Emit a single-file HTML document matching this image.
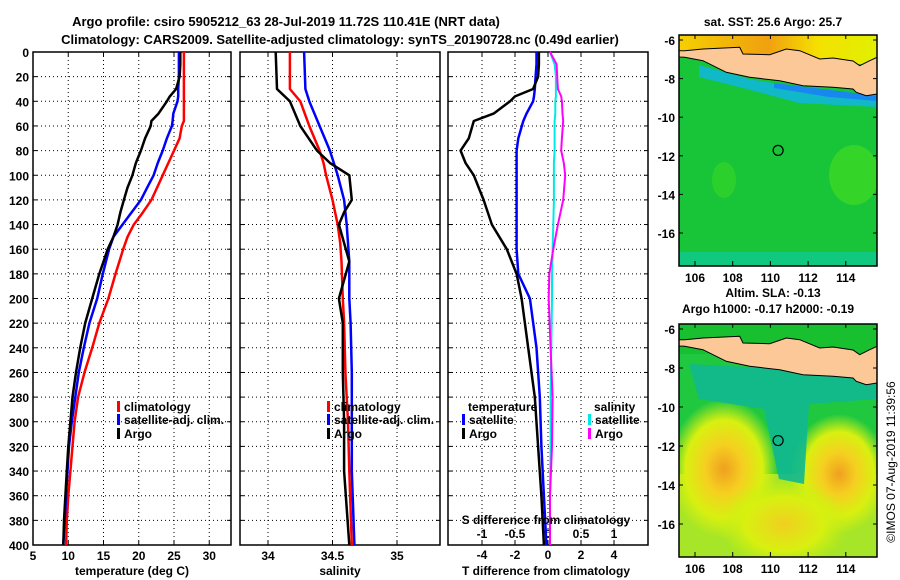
<!DOCTYPE html>
<html><head><meta charset="utf-8">
<style>
body{margin:0;background:#fff;}
svg{display:block;font-family:"Liberation Sans",sans-serif;font-weight:bold;}
</style></head>
<body>
<svg id="chart" width="900" height="580" viewBox="0 0 900 580" xmlns="http://www.w3.org/2000/svg">
<defs>
<radialGradient id="yb" cx="50%" cy="50%" r="50%"><stop offset="0" stop-color="#f0a020"/><stop offset="0.35" stop-color="#f5d020"/><stop offset="0.7" stop-color="#d8f010"/><stop offset="1" stop-color="#d8f010" stop-opacity="0"/></radialGradient>
<radialGradient id="yb2" cx="50%" cy="50%" r="50%"><stop offset="0" stop-color="#f0d020"/><stop offset="0.6" stop-color="#d8f010"/><stop offset="1" stop-color="#c8f010" stop-opacity="0"/></radialGradient>
<linearGradient id="topy" x1="0" y1="0" x2="1" y2="0"><stop offset="0" stop-color="#f5d000"/><stop offset="0.45" stop-color="#f0a010"/><stop offset="0.7" stop-color="#f5e000"/><stop offset="1" stop-color="#e0f000"/></linearGradient>
<clipPath id="c1"><rect x="679" y="35" width="198" height="231"/></clipPath>
<clipPath id="c2"><rect x="679" y="324" width="198" height="233"/></clipPath>
</defs>
<text x="286" y="26" font-size="13" text-anchor="middle">Argo profile: csiro 5905212_63 28-Jul-2019 11.72S 110.41E (NRT data)</text>
<text x="340" y="44" font-size="13" text-anchor="middle">Climatology: CARS2009. Satellite-adjusted climatology: synTS_20190728.nc (0.49d earlier)</text>
<g id="panels"></g>
<g id="maps"></g>
<text transform="translate(895,462) rotate(-90)" font-size="12" font-weight="normal" text-anchor="middle">©IMOS 07-Aug-2019 11:39:56</text>
</svg>
<script>
const NS="http://www.w3.org/2000/svg";
const svg=document.getElementById('chart');
const depthTicks=[0,20,40,60,80,100,120,140,160,180,200,220,240,260,280,300,320,340,360,380,400];
// Temperature profiles
const tDepth=[0,10,20,30,36,40,50,56,60,70,80,90,100,110,120,130,140,150,160,180,200,220,240,260,280,300,320,340,360,380,400];
const tArgo=[25.9,25.9,25.8,25.3,24.4,24.0,22.8,21.8,21.7,20.9,20.3,19.6,19.1,18.4,17.9,17.4,17.0,16.4,15.6,14.4,13.4,12.4,11.7,11.1,10.6,10.3,10.0,9.8,9.6,9.4,9.3];
const tSat=[25.7,25.7,25.7,25.6,25.6,25.5,24.9,24.8,24.7,24.0,23.4,22.7,22.1,21.2,20.3,19.0,17.7,16.4,15.8,14.9,14.1,13.0,12.2,11.5,11.0,10.5,10.1,9.9,9.7,9.5,9.3];
const tClim=[26.4,26.4,26.4,26.4,26.4,26.4,26.4,26.4,26.1,25.8,25.0,24.2,23.4,22.6,21.8,20.6,19.3,18.4,17.8,16.7,15.7,14.4,13.4,12.3,11.4,10.9,10.6,10.3,10.0,9.8,9.7];
const tTicks=[5,10,15,20,25,30];
// Salinity profiles
const sDepth=[0,30,40,60,80,90,100,120,130,140,155,170,200,220,260,300,340,400];
const sArgo=[34.06,34.07,34.17,34.25,34.38,34.48,34.63,34.65,34.59,34.55,34.59,34.63,34.55,34.58,34.58,34.59,34.59,34.63];
const sSat=[34.28,34.29,34.32,34.4,34.48,34.51,34.54,34.59,34.6,34.61,34.62,34.63,34.63,34.64,34.65,34.65,34.65,34.67];
const sClim=[34.17,34.17,34.25,34.32,34.4,34.43,34.45,34.5,34.52,34.54,34.56,34.57,34.58,34.59,34.6,34.62,34.63,34.65];
const sTicks=[34,34.5,35];
const sTickLabels=["34","34.5","35"];
// Difference profiles
const dDepth=[0,10,20,30,36,40,50,56,70,80,90,100,120,140,160,180,200,240,280,320,360,400];
const dTArgo=[-0.55,-0.55,-0.6,-0.9,-2.0,-2.3,-3.3,-4.5,-4.8,-5.3,-5.0,-4.5,-3.9,-3.4,-2.5,-1.9,-1.6,-1.2,-0.8,-0.6,-0.4,-0.25];
const dTSat=[-0.7,-0.7,-0.75,-0.8,-0.85,-0.9,-1.3,-1.5,-1.8,-1.9,-1.9,-1.9,-1.9,-1.9,-1.9,-1.8,-1.1,-0.7,-0.5,-0.4,-0.25,-0.1];
const dSSat=[0.03,0.1,0.12,0.12,0.12,0.11,0.11,0.1,0.1,0.1,0.09,0.09,0.09,0.08,0.07,0.06,0.06,0.05,0.04,0.04,0.03,0.03];
const dSArgo=[0.03,0.13,0.14,0.15,0.2,0.21,0.22,0.23,0.21,0.2,0.24,0.26,0.23,0.15,0.08,0.02,0.01,0.04,0.07,0.06,0.03,0.03];
const dTTicks=[-4,-2,0,2,4];
const dSTicks=[-1,-0.5,0,0.5,1];
const dSTickLabels=["-1","-0.5","0","0.5","1"];

const PY0=52, PY1=545;
function yDepth(d){return PY0+d*(PY1-PY0)/400;}
function el(tag,attrs,parent){const e=document.createElementNS(NS,tag);for(const k in attrs)e.setAttribute(k,attrs[k]);(parent||svg).appendChild(e);return e;}
const panels=document.getElementById('panels');

function xT(t){return 33+(t-5)*7.05;}
function xS(s){return 268+(s-34)*129;}
function xD(d){return 548+d*16.5;}
function xDS(s){return 548+s*66;}

function frame(x0,x1,name,showDepthLabels){
  const g=el('g',{},panels);
  
  
  depthTicks.forEach(d=>{
    const y=yDepth(d);
    if(d>0&&d<400){const l=el('line',{x1:x0,x2:x1,y1:y,y2:y,stroke:'#000','stroke-width':1,'stroke-dasharray':'1,3'},g);
      
      }
    el('line',{x1:x0,x2:x0+4,y1:y,y2:y,stroke:'#000'},g);
    el('line',{x1:x1-4,x2:x1,y1:y,y2:y,stroke:'#000'},g);
    if(showDepthLabels){const t=el('text',{x:x0-4,y:y+5,'font-size':12,'text-anchor':'end'},g);t.textContent=d;
      
      }
  });
  const r=el('rect',{x:x0,y:PY0,width:x1-x0,height:PY1-PY0,fill:'none',stroke:'#000','stroke-width':1.5},g);
  
  
  return g;
}
function vtick(g,x,label,ylab){
  const l=el('line',{x1:x,x2:x,y1:PY0,y2:PY1,stroke:'#000','stroke-dasharray':'1,3'},g);
  
  
  el('line',{x1:x,x2:x,y1:PY1-4,y2:PY1,stroke:'#000'},g);
  el('line',{x1:x,x2:x,y1:PY0,y2:PY0+4,stroke:'#000'},g);
  if(label!==null){const t=el('text',{x:x,y:ylab,'font-size':12,'text-anchor':'middle'},g);t.textContent=label;
    
    }
}
function series(g,xs,ds,fx,color,name,w){
  const pts=xs.map((v,i)=>fx(v).toFixed(1)+','+yDepth(ds[i]).toFixed(1)).join(' ');
  const p=el('polyline',{points:pts,fill:'none',stroke:color,'stroke-width':w||2.5,'stroke-linejoin':'round'},g);
  
  
}
function txt(g,x,y,s,name,anchor,size){const t=el('text',{x:x,y:y,'font-size':size||12,'text-anchor':anchor||'start'},g);t.textContent=s;
  
  return t;}
function legBar(g,x,y,color,name){const r=el('rect',{x:x,y:y-10,width:3,height:11,fill:color},g);
  
  }

// Panel 1
let g1=frame(33,231,'temperature-panel',true);
tTicks.forEach(t=>vtick(g1,xT(t),String(t),560));
series(g1,tClim,tDepth,xT,'#ff0000','climatology-temperature-line');
series(g1,tSat,tDepth,xT,'#0000ff','satellite-temperature-line');
series(g1,tArgo,tDepth,xT,'#000000','argo-temperature-line');
txt(g1,132,575,'temperature (deg C)','x-axis-title','middle');
legBar(g1,117,411,'#ff0000','legend-climatology-swatch');txt(g1,124,411,'climatology','legend-climatology');
legBar(g1,117,424,'#0000ff','legend-satellite-swatch');txt(g1,124,424,'satellite-adj. clim.','legend-satellite');
legBar(g1,117,438,'#000','legend-argo-swatch');txt(g1,124,438,'Argo','legend-argo');

// Panel 2
let g2=frame(240,440,'salinity-panel',false);
sTicks.forEach((s,i)=>vtick(g2,xS(s),sTickLabels[i],560));
series(g2,sClim,sDepth,xS,'#ff0000','climatology-salinity-line');
series(g2,sSat,sDepth,xS,'#0000ff','satellite-salinity-line');
series(g2,sArgo,sDepth,xS,'#000000','argo-salinity-line');
txt(g2,340,575,'salinity','x-axis-title','middle');
legBar(g2,327,411,'#ff0000','legend-climatology-swatch');txt(g2,334,411,'climatology','legend-climatology');
legBar(g2,327,424,'#0000ff','legend-satellite-swatch');txt(g2,334,424,'satellite-adj. clim.','legend-satellite');
legBar(g2,327,438,'#000','legend-argo-swatch');txt(g2,334,438,'Argo','legend-argo');

// Panel 3
let g3=frame(448,648,'difference-panel',false);
dTTicks.forEach(t=>vtick(g3,xD(t),String(t),559));
dSTicks.forEach((s,i)=>{txt(g3,xDS(s),538,dSTickLabels[i],'s-tick-label','middle');});
series(g3,dSSat,dDepth,xDS,'#00e8e8','satellite-salinity-diff-line',2);
series(g3,dSArgo,dDepth,xDS,'#ff00ff','argo-salinity-diff-line',2);
series(g3,dTSat,dDepth,xD,'#0000ff','satellite-temperature-diff-line');
series(g3,dTArgo,dDepth,xD,'#000000','argo-temperature-diff-line');
txt(g3,546,524,'S difference from climatology','s-axis-title','middle');
txt(g3,546,575,'T difference from climatology','t-axis-title','middle');
txt(g3,468,411,'temperature','legend-temperature-header');
legBar(g3,462,424,'#0000ff','legend-t-satellite-swatch');txt(g3,469,424,'satellite','legend-t-satellite');
legBar(g3,462,438,'#000','legend-t-argo-swatch');txt(g3,469,438,'Argo','legend-t-argo');
txt(g3,594,411,'salinity','legend-salinity-header');
legBar(g3,588,424,'#00e8e8','legend-s-satellite-swatch');txt(g3,595,424,'satellite','legend-s-satellite');
legBar(g3,588,438,'#ff00ff','legend-s-argo-swatch');txt(g3,595,438,'Argo','legend-s-argo');

// Maps
const maps=document.getElementById('maps');
const landTop=[[0,15.7],[5.7,15.7],[24,14],[60.7,12.3],[64,19],[90.7,19.7],[107.3,14],[120.7,15.7],[140.7,24],[154,23],[174,26],[180.7,30.7],[190.7,25.7],[198,22.3]];
const landBot=[[198,59],[187.3,60.7],[177.3,57.3],[174,54],[154,52.3],[124,50.7],[100.7,45.7],[70.7,42.3],[47.3,37.3],[24,25.7],[5.7,22.3],[0,22]];
const lonTicks=[106,108,110,112,114];
const latTicks=[-6,-8,-10,-12,-14,-16];
function drawMap(x0,y0,h,kind,title1,title2){
  const g=el('g',{},maps);
  
  
  const w=198;
  const lx=lon=>x0+16+(lon-106)*18.85;
  const ly=lat=>y0+5+(-6-lat)*(h-38)/10;
  const cg=el('g',{'clip-path':kind==='sst'?'url(#c1)':'url(#c2)'},g);
  const pt=a=>(x0+a[0])+','+(y0+a[1]);
  if(kind==='sst'){
    el('rect',{x:x0,y:y0,width:w,height:h,fill:'#18c438'},cg);
    el('rect',{x:x0,y:y0+h-14,width:w,height:14,fill:'#10c880'},cg);
    el('polygon',{points:[[20,30],[70,44],[120,52],[180,60],[198,62],[198,72],[120,68],[60,52],[20,42]].map(pt).join(' '),fill:'#10b8c8'},cg);
    el('polygon',{points:[[95,48],[160,56],[198,61],[198,66],[150,62],[95,53]].map(pt).join(' '),fill:'#1888f0'},cg);
    el('ellipse',{cx:x0+175,cy:y0+140,rx:25,ry:30,fill:'#48e020',opacity:0.6},cg);
    el('ellipse',{cx:x0+45,cy:y0+145,rx:12,ry:18,fill:'#40dc20',opacity:0.5},cg);
    el('polygon',{points:[[0,0],[198,0],[198,30],[0,20]].map(pt).join(' '),fill:'url(#topy)'},cg);
  } else {
    el('rect',{x:x0,y:y0,width:w,height:h,fill:'#20c840'},cg);
    el('rect',{x:x0,y:y0+150,width:w,height:83,fill:'#c8ec20',opacity:0.8},cg);
    el('ellipse',{cx:x0+45,cy:y0+145,rx:55,ry:70,fill:'url(#yb)'},cg);
    el('ellipse',{cx:x0+160,cy:y0+150,rx:50,ry:60,fill:'url(#yb)'},cg);
    el('ellipse',{cx:x0+105,cy:y0+200,rx:65,ry:45,fill:'url(#yb2)'},cg);
    el('polygon',{points:[[10,40],[198,50],[198,75],[130,80],[125,160],[100,155],[85,85],[20,75]].map(pt).join(' '),fill:'#10b890',opacity:0.9},cg);
    el('polygon',{points:[[0,0],[198,0],[198,30],[0,30]].map(pt).join(' '),fill:'#18c030'},cg);
  }
  const land=el('polygon',{points:landTop.concat(landBot).map(pt).join(' '),fill:'#fcc898',stroke:'#000','stroke-width':1},cg);
  
  
  const c=el('circle',{cx:lx(110.41),cy:ly(-11.72),r:5,fill:'none',stroke:'#000','stroke-width':1.2},g);
  
  
  el('rect',{x:x0,y:y0,width:w,height:h,fill:'none',stroke:'#000','stroke-width':1.5},g);
  lonTicks.forEach(l=>{const x=lx(l);el('line',{x1:x,x2:x,y1:y0+h-5,y2:y0+h,stroke:'#000'},g);el('line',{x1:x,x2:x,y1:y0,y2:y0+4,stroke:'#000'},g);
    txt(g,x,y0+h+16,String(l),'longitude-tick-label','middle');});
  latTicks.forEach(l=>{const y=ly(l);el('line',{x1:x0,x2:x0+4,y1:y,y2:y,stroke:'#000'},g);el('line',{x1:x0+w-4,x2:x0+w,y1:y,y2:y,stroke:'#000'},g);
    txt(g,x0-4,y+5,String(l),'latitude-tick-label','end');});
  if(title1)txt(g,x0+w/2-5,y0-(title2?27:9),title1,'map-title','middle');
  if(title2)txt(g,x0+w/2-10,y0-11,title2,'map-subtitle','middle');
}
drawMap(679,35,231,'sst','sat. SST: 25.6 Argo: 25.7',null);
drawMap(679,324,233,'sla','Altim. SLA: -0.13','Argo h1000: -0.17 h2000: -0.19');
</script>
</body></html>
